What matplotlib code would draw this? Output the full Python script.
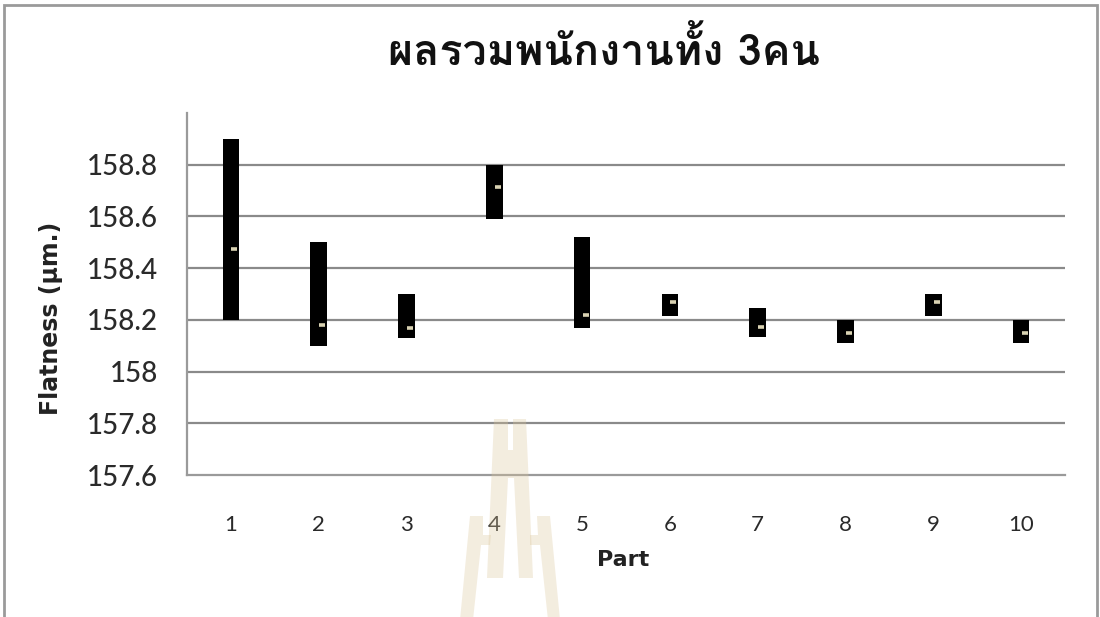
import matplotlib.pyplot as plt
from matplotlib import font_manager
from matplotlib.ft2font import FT2Font
from matplotlib.patches import Polygon, Rectangle

# high / low / close per part (flatness, um)
parts = ["1", "2", "3", "4", "5", "6", "7", "8", "9", "10"]
high = [158.90, 158.50, 158.30, 158.80, 158.52, 158.30, 158.245, 158.20, 158.30, 158.20]
low = [158.20, 158.10, 158.13, 158.59, 158.17, 158.215, 158.135, 158.11, 158.215, 158.11]
close = [158.475, 158.18, 158.168, 158.715, 158.218, 158.27, 158.174, 158.151, 158.27, 158.151]

y_ticks = [157.6, 157.8, 158.0, 158.2, 158.4, 158.6, 158.8]
y_tick_labels = ["157.6", "157.8", "158", "158.2", "158.4", "158.6", "158.8"]

title = "ผลรวมพนักงานทั้ง 3คน"


def thai_family():
    # first installed family that actually covers Thai script
    for f in font_manager.fontManager.ttflist:
        try:
            cmap = FT2Font(f.fname).get_charmap()
        except Exception:
            continue
        if 0x0E1C in cmap and 0x0E25 in cmap:
            return f.name
    return None


TEXT_FONT = "Lato"
LABEL_FONT = "DejaVu Sans"
th = thai_family()
title_family = [th, "DejaVu Sans"] if th else ["DejaVu Sans"]

W, H = 1100, 617
fig = plt.figure(figsize=(11, 6.17), dpi=100)
ax = fig.add_axes([187 / W, 1 - 475 / H, (1065 - 187) / W, (475 - 113) / H])

x = list(range(len(parts)))
bar_h = [h - l for h, l in zip(high, low)]
ax.bar(x, bar_h, bottom=low, width=0.19, color="black", zorder=3)
ax.plot([i + 0.04 for i in x], close, ls="", marker="_", markersize=5,
        mew=2.6, color="#d9d2b2", zorder=4)

ax.set_xlim(-0.5, len(parts) - 0.5)
ax.set_ylim(157.6, 159.0)
ax.set_yticks(y_ticks)
ax.set_yticklabels(y_tick_labels, fontfamily=TEXT_FONT, fontsize=20,
                   fontweight="medium", color="#2a2a2a")
ax.set_xticks(x)
ax.set_xticklabels(parts, fontfamily=TEXT_FONT, fontsize=16, color="#2a2a2a")
ax.tick_params(axis="y", length=0, pad=21)
ax.tick_params(axis="x", length=0, pad=29)

for t in y_ticks[1:]:
    ax.axhline(t, color="#8a8a8a", lw=1.6, zorder=1)

for s in ["top", "right"]:
    ax.spines[s].set_visible(False)
for s in ["left", "bottom"]:
    ax.spines[s].set_color("#9a9a9a")
    ax.spines[s].set_linewidth(1.6)

fig.text(604 / W, 1 - 50 / H, title, family=title_family, fontsize=31,
         fontweight="bold", ha="center", va="center", color="#111111")
fig.text(51 / W, 1 - 318 / H, "Flatness (µm.)", family=LABEL_FONT, fontsize=17,
         fontweight="bold", rotation=90, ha="center", va="center", color="#222222")
fig.text(623 / W, 1 - 560 / H, "Part", family=LABEL_FONT, fontsize=16,
         fontweight="bold", ha="center", va="center", color="#222222")

# outer chart border
fig.patches.append(Rectangle((4 / W, -0.02), (1097 - 4) / W, 1.02 - 5 / H,
                             transform=fig.transFigure, fill=False,
                             edgecolor="#9a9a9a", lw=2.0))

# faint logo watermark near the bottom centre
logo = [
    [(494, 419), (508, 419), (508, 450), (513, 450), (513, 419), (526, 419),
     (533, 578), (519, 578), (514, 478), (508, 478), (503, 578), (487, 578)],
    [(470, 516), (483, 516), (483, 535), (491, 535), (490, 545), (481, 545),
     (473, 620), (460, 620)],
    [(537, 516), (550, 516), (560, 620), (548, 620), (540, 545), (530, 545),
     (530, 535), (538, 535)],
]
for pts in logo:
    fig.patches.append(Polygon([(px / W, 1 - py / H) for px, py in pts],
                               closed=True, transform=fig.transFigure,
                               facecolor="#dcc79c", edgecolor="none",
                               alpha=0.32, zorder=10))

fig.savefig("out.png", dpi=100)
